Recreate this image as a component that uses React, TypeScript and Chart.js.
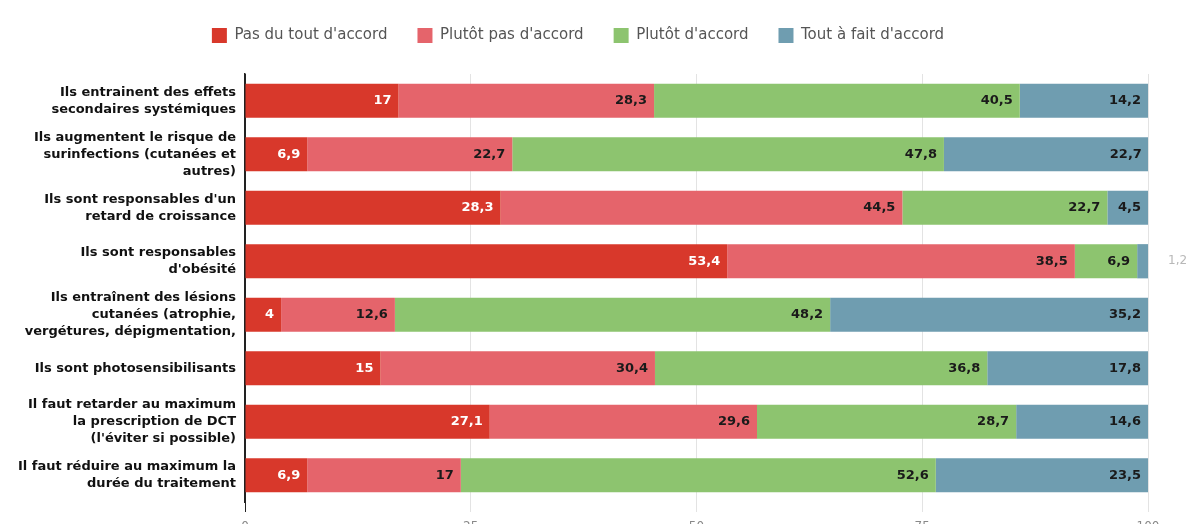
import React, { useEffect, useRef } from "react";
import { Chart, registerables } from "chart.js";

Chart.register(...registerables);

const categories: string[][] = [
  ["Ils entrainent des effets", "secondaires systémiques"],
  ["Ils augmentent le risque de", "surinfections (cutanées et", "autres)"],
  ["Ils sont responsables d'un", "retard de croissance"],
  ["Ils sont responsables", "d'obésité"],
  ["Ils entraînent des lésions", "cutanées (atrophie,", "vergétures, dépigmentation,"],
  ["Ils sont photosensibilisants"],
  ["Il faut retarder au maximum", "la prescription de DCT", "(l'éviter si possible)"],
  ["Il faut réduire au maximum la", "durée du traitement"],
];

const seriesNames = ["Pas du tout d'accord", "Plutôt pas d'accord", "Plutôt d'accord", "Tout à fait d'accord"];
const pasDuTout = [17, 6.9, 28.3, 53.4, 4, 15, 27.1, 6.9];
const plutotPas = [28.3, 22.7, 44.5, 38.5, 12.6, 30.4, 29.6, 17];
const plutot = [40.5, 47.8, 22.7, 6.9, 48.2, 36.8, 28.7, 52.6];
const toutAFait = [14.2, 22.7, 4.5, 1.2, 35.2, 17.8, 14.6, 23.5];
const xTicks = [0, 25, 50, 75, 100];

const colors = ["#d8382b", "#e5646b", "#8dc46f", "#6f9db0"];
const labelColors = ["#ffffff", "#1a1a1a", "#1a1a1a", "#1a1a1a"];
const FONT = "'DejaVu Sans', Verdana, sans-serif";

const fmt = (v: number) => String(v).replace(".", ",");

const valueLabels = {
  id: "valueLabels",
  afterDatasetsDraw(chart: any) {
    const ctx = chart.ctx;
    ctx.save();
    ctx.font = `bold 13px ${FONT}`;
    ctx.textBaseline = "middle";
    chart.data.datasets.forEach((ds: any, i: number) => {
      const meta = chart.getDatasetMeta(i);
      meta.data.forEach((bar: any, j: number) => {
        const v = ds.data[j];
        const { x, base, y } = bar.getProps(["x", "base", "y"], true);
        const txt = fmt(v);
        const w = ctx.measureText(txt).width;
        if (x - base >= w + 10) {
          ctx.textAlign = "right";
          ctx.fillStyle = labelColors[i];
          ctx.fillText(txt, x - 7, y);
        } else {
          ctx.save();
          ctx.font = `12px ${FONT}`;
          ctx.textAlign = "left";
          ctx.fillStyle = "#b8b8b8";
          ctx.fillText(txt, chart.chartArea.right + 20, y);
          ctx.restore();
        }
      });
    });
    ctx.restore();
  },
};

const legendGap = {
  id: "legendGap",
  beforeInit(chart: any) {
    const orig = chart.legend.fit;
    chart.legend.fit = function () {
      orig.bind(chart.legend)();
      this.height += 21;
    };
  },
};

export default function App() {
  const ref = useRef<HTMLCanvasElement>(null);
  useEffect(() => {
    if (!ref.current) return;
    const data = [pasDuTout, plutotPas, plutot, toutAFait];
    const chart = new Chart(ref.current, {
      type: "bar",
      data: {
        labels: categories,
        datasets: seriesNames.map((name, i) => ({
          label: name,
          data: data[i],
          backgroundColor: colors[i],
          borderWidth: 0,
          categoryPercentage: 1,
          barPercentage: 0.64,
        })),
      },
      options: {
        indexAxis: "y",
        animation: false,
        responsive: false,
        maintainAspectRatio: false,
        layout: { padding: { top: -10, right: 39, left: 0, bottom: 0 } },
        plugins: {
          legend: {
            position: "top",
            labels: {
              boxWidth: 15,
              boxHeight: 15,
              padding: 30,
              color: "#555555",
              font: { family: FONT, size: 15 },
            },
          },
          tooltip: { enabled: false },
        },
        scales: {
          x: {
            stacked: true,
            min: 0,
            max: 100,
            afterBuildTicks(scale: any) {
              scale.ticks = xTicks.map((v) => ({ value: v }));
            },
            afterFit(scale: any) {
              scale.height = 36;
            },
            grid: {
              color: (c: any) => (c.index === 0 ? "#222222" : "#e3e3e3"),
              tickLength: 10,
            },
            border: { display: false },
            ticks: { color: "#888888", padding: 8, font: { family: FONT, size: 12 } },
          },
          y: {
            stacked: true,
            afterFit(scale: any) {
              scale.width = 237;
            },
            grid: { display: false, drawTicks: false },
            border: { display: true, color: "#222222", width: 1.5 },
            ticks: {
              autoSkip: false,
              padding: 9,
              color: "#111111",
              font: { family: FONT, size: 13, weight: "bold", lineHeight: 1.3 },
            },
          },
        },
      },
      plugins: [valueLabels, legendGap],
    } as any);
    return () => chart.destroy();
  }, []);
  return <canvas ref={ref} width={1179} height={530} style={{ display: "block" }} />;
}
